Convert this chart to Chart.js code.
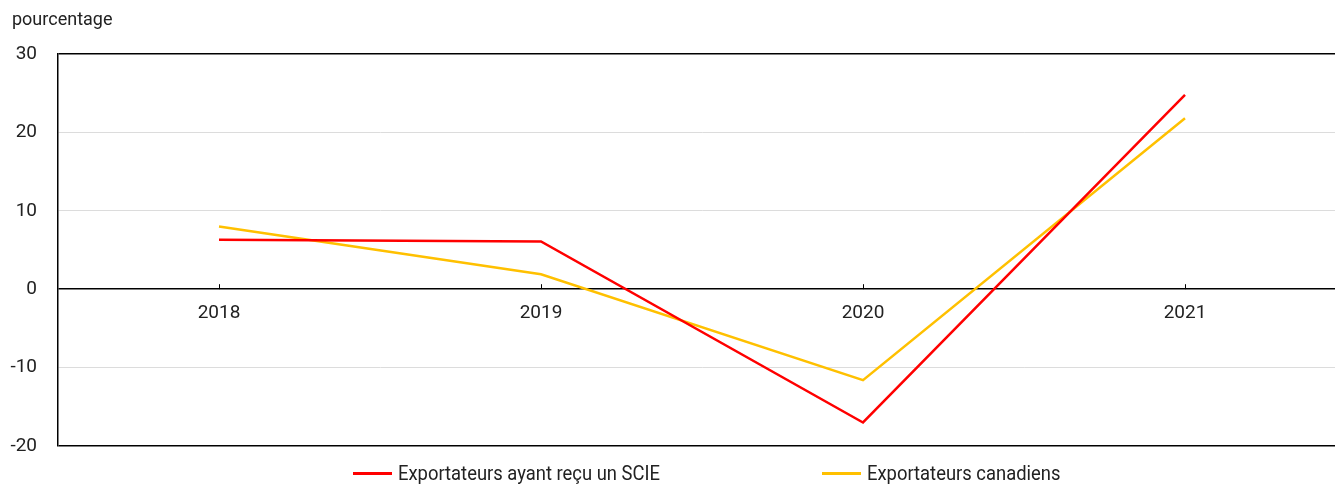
<!DOCTYPE html>
<html>
<head>
<meta charset="utf-8">
<script src="https://cdn.jsdelivr.net/npm/chart.js@4"></script>
<style>
  body { margin: 0; background: #fff; }
  #wrap { position: relative; width: 1335px; height: 485px; overflow: hidden; }
  .legend { position: absolute; top: 461px; font-family: "Liberation Sans Narrow", "Roboto", sans-serif; font-size: 20px; color: #222; white-space: nowrap; }
  .legend span.sw { display: inline-block; width: 39px; height: 3px; vertical-align: middle; margin-right: 6px; position: relative; top: -1px; }
  .legend span.tx { display: inline-block; transform-origin: left center; transform: scaleX(0.92); }
</style>
</head>
<body>
<div id="wrap">
  <canvas id="chart" width="1346" height="485"></canvas>
  <div class="legend" style="left:353px"><span class="sw" style="background:#ff0000"></span><span class="tx">Exportateurs ayant reçu un SCIE</span></div>
  <div class="legend" style="left:822px"><span class="sw" style="background:#ffc000"></span><span class="tx">Exportateurs canadiens</span></div>
</div>
<script>
const years = ['2018', '2019', '2020', '2021'];
const scie = [6.3, 6.1, -17.0, 24.8];
const canadiens = [8.0, 1.9, -11.6, 21.8];
const yTicks = [30, 20, 10, 0, -10, -20];

const font_family = 'Roboto, "Liberation Sans", sans-serif';

// titre de l'axe + petites marques vers le haut sur la ligne zéro
const extras = {
    id: 'extras',
    afterDraw(chart) {
        const ctx = chart.ctx;
        const x = chart.scales.x;
        const y = chart.scales.y;
        const y0 = y.getPixelForValue(0);
        ctx.save();
        ctx.strokeStyle = '#000';
        ctx.lineWidth = 1;
        years.forEach((yr, i) => {
            const px = Math.round(x.getPixelForValue(i)) + 0.5;
            ctx.beginPath();
            ctx.moveTo(px, y0);
            ctx.lineTo(px, y0 - 5);
            ctx.stroke();
        });
        ctx.fillStyle = '#222';
        ctx.font = '18px ' + font_family;
        ctx.textBaseline = 'middle';
        ctx.fillText('pourcentage', 12, 20);
        ctx.restore();
    }
};

const config = {
    type: 'line',
    data: {
        labels: years,
        datasets: [
            {
                label: 'Exportateurs ayant reçu un SCIE',
                data: scie,
                borderColor: '#ff0000',
                borderWidth: 2.5,
                pointRadius: 0,
                tension: 0
            },
            {
                label: 'Exportateurs canadiens',
                data: canadiens,
                borderColor: '#ffc000',
                borderWidth: 2.5,
                pointRadius: 0,
                tension: 0
            }
        ]
    },
    options: {
        responsive: false,
        animation: false,
        layout: {
            padding: { top: 54, bottom: 39, left: 0, right: 0 }
        },
        scales: {
            x: {
                position: { y: 0 },
                offset: true,
                grid: { display: false, offset: true },
                border: { display: false },
                ticks: {
                    color: '#222',
                    padding: 5,
                    font: { family: font_family, size: 19 }
                }
            },
            y: {
                min: -20,
                max: 30,
                afterFit(scale) { scale.width = 58; },
                afterBuildTicks(scale) { scale.ticks = yTicks.map(v => ({ value: v })); },
                border: { color: '#000', width: 1.5 },
                grid: {
                    drawTicks: false,
                    color: ctx => ([30, 0, -20].includes(ctx.tick.value) ? '#000' : '#dcdcdc'),
                    lineWidth: ctx => ([30, 0, -20].includes(ctx.tick.value) ? 1.5 : 1)
                },
                ticks: {
                    color: '#222',
                    padding: 21,
                    font: { family: font_family, size: 19 }
                }
            }
        },
        plugins: {
            legend: { display: false },
            tooltip: { enabled: false }
        }
    },
    plugins: [extras]
};

new Chart(document.getElementById('chart'), config);
</script>
</body>
</html>
